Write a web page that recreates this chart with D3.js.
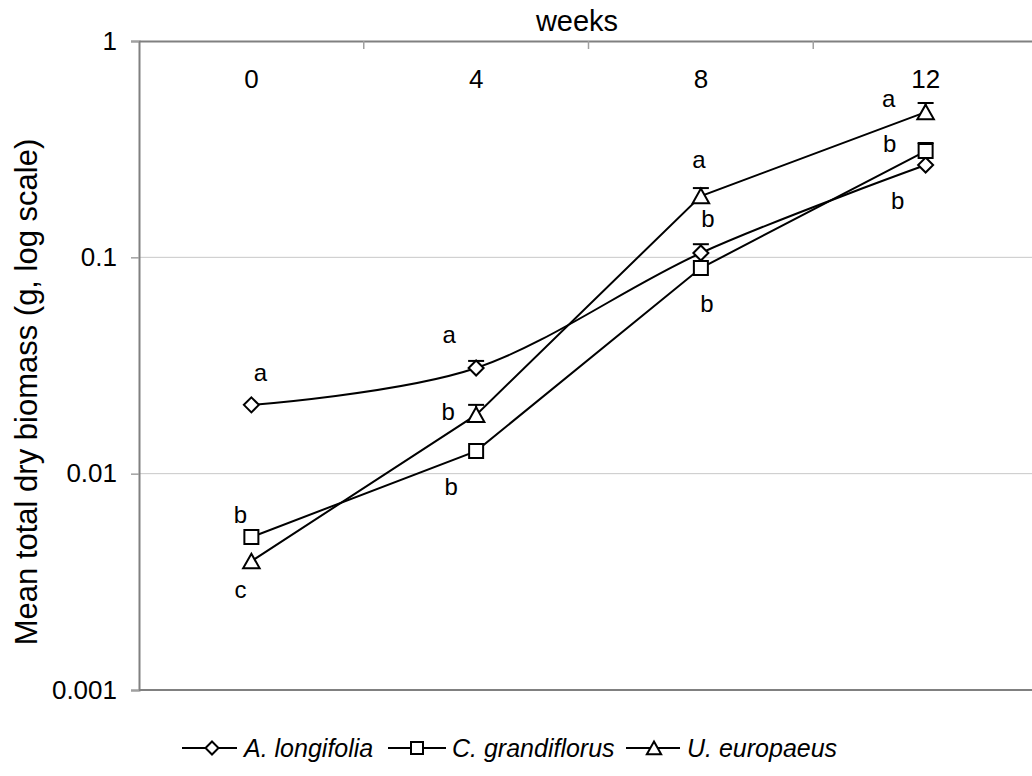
<!DOCTYPE html>
<html>
<head>
<meta charset="utf-8">
<script src="https://cdn.jsdelivr.net/npm/d3@7"></script>
<style>
  html, body { margin: 0; padding: 0; background: #fff; }
  svg { display: block; font-family: "Liberation Sans", Arial, sans-serif; }
</style>
</head>
<body>
<svg id="chart" width="1032" height="776"></svg>
<script>
// ---- data ----
const weeks = ["0", "4", "8", "12"];
const seriesNames = ["A. longifolia", "C. grandiflorus", "U. europaeus"];
const aLongifolia   = [0.0208, 0.0308, 0.1047, 0.267];
const cGrandiflorus = [0.00509, 0.01272, 0.0892, 0.310];
const uEuropaeus    = [0.00394, 0.0187, 0.192, 0.469];
// upper end of error bars (null = not visible)
const aLongifoliaUpper   = [null, 0.0332, 0.115, null];
const cGrandiflorusUpper = [null, null, null, 0.3376];
const uEuropaeusUpper    = [null, 0.0208, 0.209, 0.517];
// significance letters
const aLongifoliaLetters   = ["a", "a", "b", "b"];
const cGrandiflorusLetters = ["b", "b", "b", "b"];
const uEuropaeusLetters    = ["c", "b", "a", "a"];
const yTickValues = [0.001, 0.01, 0.1, 1];
const yTickLabels = ["0.001", "0.01", "0.1", "1"];

(function () {
// ---- layout ----
const pLeft = 139, pRight = 1038, pTop = 41, pBottom = 690;
const svg = d3.select("#chart");
const FS = 25;
const TFS = 26;

const x = d3.scaleBand().domain(weeks).range([pLeft, pRight]).padding(0);
const cx = w => x(w) + x.bandwidth() / 2;
const y = d3.scaleLog().domain([0.001, 1]).range([pBottom, pTop]);

// gridlines
svg.append("g").selectAll("line")
  .data([0.01, 0.1]).join("line")
  .attr("x1", pLeft).attr("x2", pRight)
  .attr("y1", d => y(d)).attr("y2", d => y(d))
  .attr("stroke", "#c8c8c8").attr("stroke-width", 1);

// bottom border of plot
svg.append("line")
  .attr("x1", pLeft).attr("x2", pRight).attr("y1", pBottom).attr("y2", pBottom)
  .attr("stroke", "#808080").attr("stroke-width", 2);

// y axis
const yAxis = d3.axisLeft(y).tickValues(yTickValues)
  .tickFormat((d, i) => yTickLabels[i]).tickSize(8).tickPadding(14);
const gy = svg.append("g").attr("transform", `translate(${pLeft},0)`).call(yAxis);
gy.select(".domain").attr("stroke", "#808080").attr("stroke-width", 2);
gy.selectAll(".tick line").attr("stroke", "#a0a0a0").attr("stroke-width", 1.5);
gy.selectAll(".tick text").attr("font-size", TFS).attr("fill", "#000")
  .attr("font-family", "Liberation Sans, Arial, sans-serif");

// top (x) axis
const xAxis = d3.axisBottom(x).tickSize(0).tickPadding(29);
const gx = svg.append("g").attr("transform", `translate(0,${pTop})`).call(xAxis);
gx.select(".domain").attr("stroke", "#808080").attr("stroke-width", 2);
gx.selectAll(".tick text").attr("font-size", TFS).attr("fill", "#000")
  .attr("font-family", "Liberation Sans, Arial, sans-serif");
// category boundary ticks
svg.append("g").selectAll("line")
  .data(weeks.slice(1)).join("line")
  .attr("x1", d => x(d)).attr("x2", d => x(d))
  .attr("y1", pTop).attr("y2", pTop + 8)
  .attr("stroke", "#a0a0a0").attr("stroke-width", 1.5);

// titles
svg.append("text").attr("x", 577).attr("y", 31).attr("text-anchor", "middle")
  .attr("font-size", 29).text("weeks");
svg.append("text").attr("transform", "translate(37,392) rotate(-90)")
  .attr("text-anchor", "middle").attr("font-size", 31)
  .text("Mean total dry biomass (g, log scale)");

// ---- marker shapes ----
function markerPath(type, s) {
  if (type === "diamond") return `M0,${-s}L${s},0L0,${s}L${-s},0Z`;
  if (type === "square") return `M${-s},${-s}L${s},${-s}L${s},${s}L${-s},${s}Z`;
  return `M0,${-s}L${s * 1.1},${s * 0.95}L${-s * 1.1},${s * 0.95}Z`;
}

const series = [
  { name: seriesNames[0], vals: aLongifolia, upper: aLongifoliaUpper, letters: aLongifoliaLetters,
    marker: "diamond", size: 7.5, curve: d3.curveCatmullRom.alpha(0),
    offsets: [[9, -32], [-27, -33], [7, -34], [-28, 36]] },
  { name: seriesNames[1], vals: cGrandiflorus, upper: cGrandiflorusUpper, letters: cGrandiflorusLetters,
    marker: "square", size: 7, curve: d3.curveLinear,
    offsets: [[-11, -22], [-25, 36], [6, 36], [-36, -7]] },
  { name: seriesNames[2], vals: uEuropaeus, upper: uEuropaeusUpper, letters: uEuropaeusLetters,
    marker: "triangle", size: 7.5, curve: d3.curveLinear,
    offsets: [[-11, 29], [-28, -3], [-2, -36], [-37, -13]] }
];

const plot = svg.append("g");
series.forEach(s => {
  const pts = weeks.map((w, i) => ({ w, v: s.vals[i], u: s.upper[i], l: s.letters[i], o: s.offsets[i] }));
  const line = d3.line().x(d => cx(d.w)).y(d => y(d.v)).curve(s.curve);
  plot.append("path").datum(pts).attr("d", line)
    .attr("fill", "none").attr("stroke", "#000").attr("stroke-width", 2);
  // error bars
  const eb = plot.append("g");
  pts.filter(d => d.u != null).forEach(d => {
    eb.append("line").attr("x1", cx(d.w)).attr("x2", cx(d.w))
      .attr("y1", y(d.v)).attr("y2", y(d.u)).attr("stroke", "#000").attr("stroke-width", 2);
    eb.append("line").attr("x1", cx(d.w) - 8).attr("x2", cx(d.w) + 8)
      .attr("y1", y(d.u)).attr("y2", y(d.u)).attr("stroke", "#000").attr("stroke-width", 2);
  });
  s.pts = pts;
});
series.forEach(s => {
  plot.append("g").selectAll("path").data(s.pts).join("path")
    .attr("transform", d => `translate(${cx(d.w)},${y(d.v)})`)
    .attr("d", markerPath(s.marker, s.size))
    .attr("fill", "#fff").attr("stroke", "#000").attr("stroke-width", 2);
  plot.append("g").selectAll("text").data(s.pts).join("text")
    .attr("x", d => cx(d.w) + d.o[0]).attr("y", d => y(d.v) + d.o[1] + 8)
    .attr("text-anchor", "middle").attr("font-size", 24).text(d => d.l);
});

// ---- legend ----
const legendItems = [
  { x1: 182, x2: 237, mx: 212, tx: 244 },
  { x1: 388, x2: 446, mx: 417, tx: 452 },
  { x1: 626, x2: 680, mx: 654, tx: 687 }
];
const ly = 748;
const lg = svg.append("g");
series.forEach((s, i) => {
  const it = legendItems[i];
  lg.append("line").attr("x1", it.x1).attr("x2", it.x2).attr("y1", ly).attr("y2", ly)
    .attr("stroke", "#000").attr("stroke-width", 2);
  lg.append("path").attr("transform", `translate(${it.mx},${ly})`)
    .attr("d", markerPath(s.marker, s.marker === "square" ? 6 : 6.5))
    .attr("fill", "#fff").attr("stroke", "#000").attr("stroke-width", 2);
  lg.append("text").attr("x", it.tx).attr("y", ly + 9).attr("font-size", FS)
    .attr("font-style", "italic").text(s.name);
});
})();
</script>
</body>
</html>
